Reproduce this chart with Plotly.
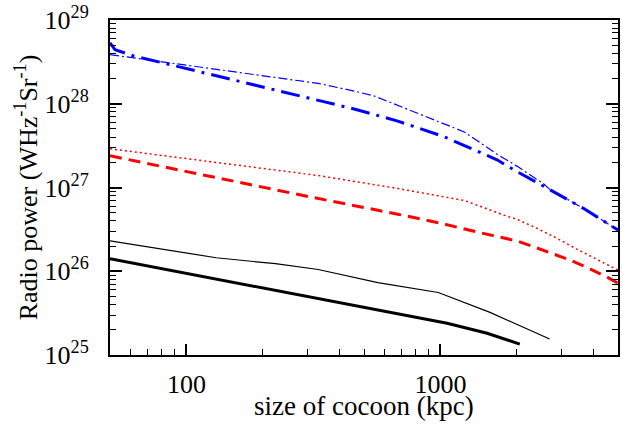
import numpy as np
import plotly.graph_objects as go

# Cocoon size (kpc) and radio power (W Hz^-1 Sr^-1) for each model curve
black_thick_size = [50, 100, 567, 1062, 1527, 2053]
black_thick_power = [1.41e26, 9.4e25, 3.41e25, 2.39e25, 1.82e25, 1.35e25]

black_thin_size = [50, 131, 224, 330, 567, 980, 1567, 2690]
black_thin_power = [2.30e26, 1.45e26, 1.23e26, 1.05e26, 7.31e25, 5.57e25, 3.23e25, 1.55e25]

red_dash_size = [50, 100, 302, 679, 1000, 1400, 2000, 2393, 2786, 3221, 3654, 4102, 4571, 5000]
red_dash_power = [2.39e27, 1.55e27, 7.8e26, 4.8e26, 3.75e26, 2.93e26, 2.30e26, 1.90e26,
                  1.61e26, 1.37e26, 1.16e26, 9.86e25, 8.4e25, 7.2e25]

red_dot_size = [50, 100, 330, 679, 1241, 1828, 2000, 2393, 2864, 3427, 4102, 4790, 5000]
red_dot_power = [2.90e27, 2.2e27, 1.39e27, 9.73e26, 7.0e26, 4.54e26, 4.18e26, 3.27e26,
                 2.49e26, 1.85e26, 1.41e26, 1.10e26, 1.03e26]

blue_thick_size = [50, 52.3, 61.5, 100, 284, 461, 679, 1038, 1670, 2000, 2690, 3654, 5000]
blue_thick_power = [5.35e28, 4.42e28, 3.75e28, 2.63e28, 1.23e28, 8.6e27, 6.21e27, 4.02e27,
                    2.14e27, 1.55e27, 9.46e26, 5.64e26, 3.1e26]

blue_thin_size = [50, 330, 461, 552, 723, 1241, 1670, 2000, 2547, 2690, 3654, 5000]
blue_thin_power = [3.86e28, 1.75e28, 1.41e28, 1.23e28, 8.86e27, 4.61e27, 2.5e27, 1.8e27,
                   1.11e27, 9.5e26, 5.64e26, 3.1e26]

y_tickvals = [1e25, 1e26, 1e27, 1e28, 1e29]
y_ticktext = ["10<sup>25</sup>", "10<sup>26</sup>", "10<sup>27</sup>", "10<sup>28</sup>", "10<sup>29</sup>"]
x_tickvals = [100, 1000]
x_ticktext = ["100", "1000"]

x_minor = [60, 70, 80, 90] + [m * 100 for m in range(2, 10)] + [2000, 3000, 4000]
y_minor = [m * 10.0 ** e for e in range(25, 29) for m in range(2, 10)]

fig = go.Figure()

def add_line(x, y, color, width, dash):
    fig.add_trace(go.Scatter(x=x, y=y, mode="lines",
                             line=dict(color=color, width=width, dash=dash),
                             showlegend=False, hoverinfo="skip"))

add_line(black_thin_size, black_thin_power, "black", 1.2, "solid")
add_line(black_thick_size, black_thick_power, "black", 3, "solid")
add_line(red_dot_size, red_dot_power, "#ff0000", 1.5, "2px,3px")
add_line(red_dash_size, red_dash_power, "#ff0000", 3, "12px,7px")
add_line(blue_thin_size, blue_thin_power, "#0000ff", 1.2, "9px,3px,2px,3px")
add_line(blue_thick_size, blue_thick_power, "#0000ff", 3, "19px,7px,3px,7px")

serif = "Liberation Serif"

fig.update_layout(
    width=622, height=428,
    margin=dict(l=110, r=2, t=17, b=73),
    paper_bgcolor="white", plot_bgcolor="white",
    font=dict(family=serif, color="black"),
    xaxis=dict(
        type="log", range=[np.log10(50), np.log10(5000)],
        tickmode="array", tickvals=x_tickvals, ticktext=x_ticktext,
        ticks="inside", ticklen=11, tickwidth=1.5, tickcolor="black",
        showline=True, linewidth=2, linecolor="black", mirror=True,
        showgrid=False, zeroline=False,
        tickfont=dict(family=serif, size=26),
        ticklabelstandoff=5, ticklabeloverflow="allow",
        minor=dict(tickmode="array", tickvals=x_minor, ticks="inside",
                   ticklen=6, tickwidth=1.2, tickcolor="black", showgrid=False),
    ),
    yaxis=dict(
        type="log", range=[25, 29],
        tickmode="array", tickvals=y_tickvals, ticktext=y_ticktext,
        ticks="inside", ticklen=12, tickwidth=1.5, tickcolor="black",
        showline=True, linewidth=2, linecolor="black", mirror="allticks",
        showgrid=False, zeroline=False,
        tickfont=dict(family=serif, size=26),
        ticklabelstandoff=14, ticklabeloverflow="allow",
        minor=dict(tickmode="array", tickvals=y_minor, ticks="inside",
                   ticklen=6, tickwidth=1.2, tickcolor="black", showgrid=False),
        title=dict(text="Radio power (WHz<sup>-1</sup>Sr<sup>-1</sup>)",
                   font=dict(family=serif, size=26), standoff=0),
    ),
)

# x-axis title sits snugly under the tick labels
fig.add_annotation(text="size of cocoon (kpc)", xref="paper", yref="paper",
                   x=0.5, y=-0.152, xanchor="center", yanchor="middle",
                   showarrow=False, font=dict(family=serif, size=27))

fig.write_html("out.html")
